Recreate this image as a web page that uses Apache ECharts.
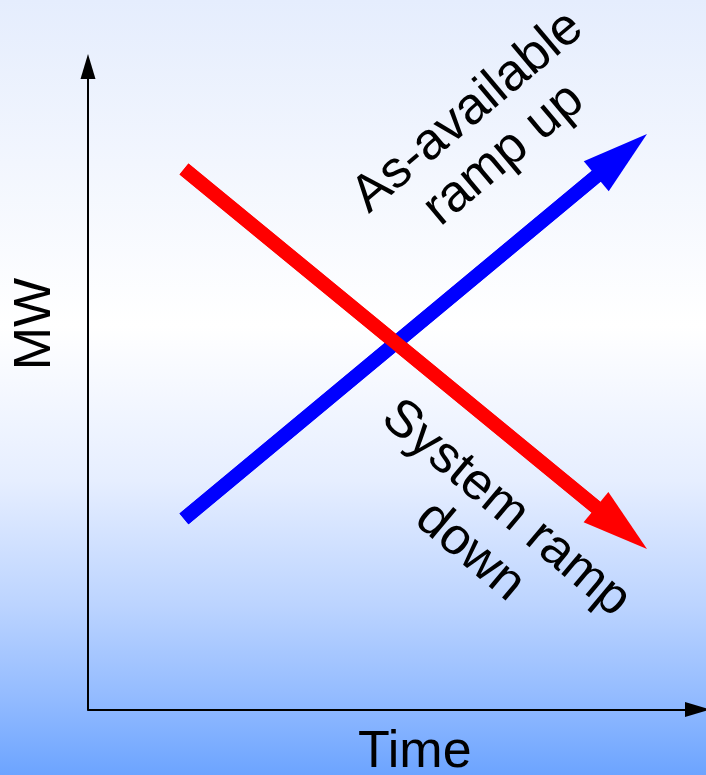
<!DOCTYPE html>
<html>
<head>
<meta charset="utf-8">
<script src="https://cdn.jsdelivr.net/npm/echarts@6/dist/echarts.min.js"></script>
<style>
html,body{margin:0;padding:0;}
#chart{width:706px;height:775px;}
</style>
</head>
<body>
<div id="chart"></div>
<script>
// ---- data (chart units: 0-100 on both axes) ----
const axisNames = ['Time', 'MW'];
const upLine = [[15.75, 29.63], [87.55, 86.22]];      // As-available ramp up (blue)
const downLine = [[15.75, 84.06], [87.53, 28.21]];    // System ramp down (red)
const noteTexts = ['As-available\nramp up', 'System ramp\ndown'];
const notePositions = [[65.3, 89.6], [65.6, 27.9]];
const noteAngles = [40, -40];

const FONT = "'Liberation Sans', Arial, sans-serif";

function arrowSeries(name, pts, color) {
  return {
    name: name,
    type: 'line',
    data: pts,
    showSymbol: false,
    symbol: 'none',
    silent: true,
    lineStyle: { color: color, width: 14, cap: 'butt' },
    markLine: {
      silent: true,
      animation: false,
      label: { show: false },
      lineStyle: { color: color, width: 14, type: 'solid', cap: 'butt' },
      emphasis: { disabled: true },
      data: [[
        { coord: pts[0], symbol: 'none' },
        { coord: pts[1], symbol: 'triangle', symbolSize: [39, 66] }
      ]]
    }
  };
}

const chart = echarts.init(document.getElementById('chart'), null, { renderer: 'canvas' });
chart.setOption({
  animation: false,
  backgroundColor: {
    type: 'linear', x: 0, y: 0, x2: 0, y2: 1,
    colorStops: [
      { offset: 0, color: '#e5edfd' },
      { offset: 0.42, color: '#ffffff' },
      { offset: 0.62, color: '#e6eeff' },
      { offset: 0.78, color: '#bcd4ff' },
      { offset: 0.9, color: '#93bbff' },
      { offset: 1, color: '#6ca4ff' }
    ]
  },
  grid: { left: 88, right: 8.5, top: 66.5, bottom: 65.5, containLabel: false, outerBoundsMode: 'none' },
  xAxis: {
    type: 'value', min: 0, max: 100,
    name: axisNames[0], nameLocation: 'middle', nameGap: 17.5,
    nameTextStyle: { fontSize: 52, color: '#000', fontFamily: FONT, padding: [0, 0, 0, 44] },
    axisLine: { show: true, onZero: false, symbol: ['none', 'triangle'], symbolSize: [15, 25], lineStyle: { color: '#000', width: 2 } },
    axisTick: { show: false }, axisLabel: { show: false }, splitLine: { show: false }
  },
  yAxis: {
    type: 'value', min: 0, max: 100,
    name: axisNames[1], nameLocation: 'middle', nameGap: 26, nameRotate: 90,
    nameTextStyle: { fontSize: 52, color: '#000', fontFamily: FONT, padding: [0, 0, 0, 128] },
    axisLine: { show: true, onZero: false, symbol: ['none', 'triangle'], symbolSize: [15, 25], lineStyle: { color: '#000', width: 2 } },
    axisTick: { show: false }, axisLabel: { show: false }, splitLine: { show: false }
  },
  series: [
    arrowSeries('As-available ramp up', upLine, '#0000ff'),
    arrowSeries('System ramp down', downLine, '#ff0000'),
    {
      type: 'scatter',
      silent: true,
      symbol: 'circle',
      symbolSize: 1,
      itemStyle: { color: 'rgba(0,0,0,0)', opacity: 1 },
      label: { show: true, color: '#000', opacity: 1, textBorderWidth: 0, textBorderColor: 'transparent' },
      data: notePositions.map((p, i) => ({
        value: p,
        label: {
          show: true,
          position: 'inside',
          formatter: noteTexts[i],
          rotate: noteAngles[i],
          fontSize: 52,
          lineHeight: 56,
          color: '#000',
          opacity: 1,
          textBorderWidth: 0,
          textBorderColor: 'transparent',
          fontFamily: FONT,
          align: 'center',
          verticalAlign: 'middle'
        }
      }))
    }
  ]
});
</script>
</body>
</html>
